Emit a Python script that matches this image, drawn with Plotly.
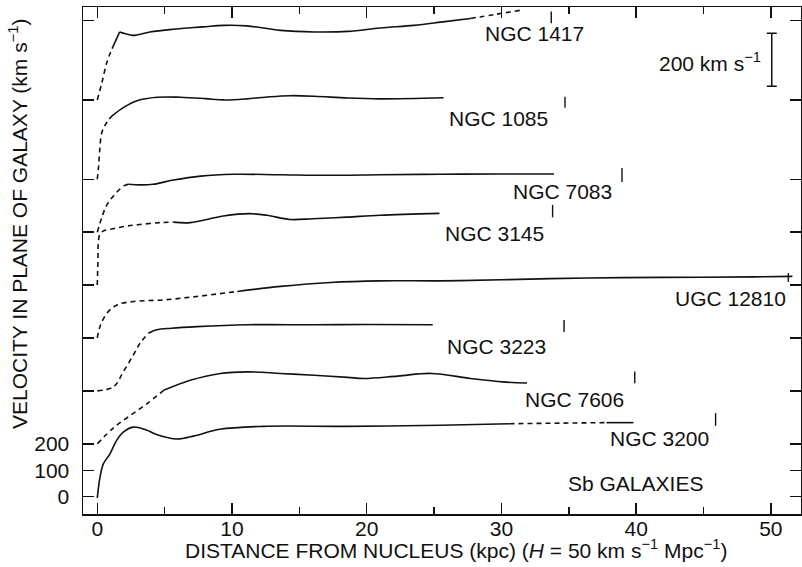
import plotly.graph_objects as go

# ---------------- data ----------------
GALAXIES = ["NGC 1417", "NGC 1085", "NGC 7083", "NGC 3145",
            "UGC 12810", "NGC 3223", "NGC 7606", "NGC 3200"]
OFFSETS = [1500, 1200, 1000, 800, 600, 400, 200, 0]  # km/s shift of each curve

# radius (kpc) and rotation velocity (km/s, relative to the curve's own zero)
R_1417 = [0, 0.35, 0.72, 1.1, 1.66, 2.1, 2.65, 3.9, 5.6, 7.85, 9.4, 11.1, 13.6,
          16.1, 18.6, 21.0, 23.5, 25.5, 27.7, 29.5, 31.4]
V_1417 = [0, 67, 143, 194, 257, 250, 244, 257, 267, 276, 282, 280, 263,
          257, 259, 272, 282, 294, 308, 323, 339]
SEG_1417 = [(0, 3, "dash"), (3, 4, "straight"), (4, 18, "solid"), (18, 20, "dash")]

R_1085 = [0, 0.1, 0.17, 0.35, 0.72, 1.1, 1.96, 2.95, 4.44, 6.17, 8.0, 9.4,
          11.1, 12.8, 14.3, 16.1, 18.6, 21.0, 25.7]
V_1085 = [0, 50, 103, 179, 216, 240, 272, 297, 310, 310, 305, 300,
          304, 312, 316, 314, 307, 304, 308]
SEG_1085 = [(0, 5, "dash"), (5, 18, "solid")]

R_7083 = [0, 0.37, 0.67, 1.04, 1.54, 2.04, 2.29, 3.2, 4.14, 5.65, 7.66, 10.1,
          13.6, 17.3, 21.0, 25.5, 30.0, 33.9]
V_7083 = [0, 61, 99, 127, 156, 177, 181, 179, 181, 197, 212, 219,
          217, 215, 217, 219, 220, 220]
SEG_7083 = [(0, 6, "dash"), (6, 17, "solid")]

R_3145 = [0, 0.05, 0.07, 0.18, 0.42, 1.17, 2.16, 3.16, 4.65, 5.65, 6.9, 9.35,
          11.3, 12.6, 14.3, 16.0, 18.5, 21.0, 25.4]
V_3145 = [0, 96, 153, 191, 204, 213, 223, 229, 236, 238, 236, 261,
          270, 264, 248, 251, 257, 264, 271]
SEG_3145 = [(0, 9, "dash"), (9, 18, "solid")]

R_12810 = [0, 0.2, 0.72, 1.46, 2.7, 4.93, 7.4, 10.4, 13.6, 17.3, 21.0, 25.5,
           30.0, 36.4, 42.0, 48.8, 51.6]
V_12810 = [0, 43, 94, 125, 138, 144, 157, 176, 195, 210, 216, 216,
           220, 227, 229, 231, 233]
SEG_12810 = [(0, 7, "dash"), (7, 16, "solid")]

R_3223 = [0, 1.2, 1.93, 2.67, 3.17, 3.79, 4.41, 5.5, 7.4, 11.1, 16.1, 20.0, 24.9]
V_3223 = [0, 15, 72, 135, 180, 218, 231, 237, 243, 250, 250, 251, 250]
SEG_3223 = [(0, 5, "dash"), (5, 12, "solid")]

R_7606 = [0, 1.24, 2.45, 3.7, 4.93, 6.9, 9.14, 11.1, 13.6, 16.1, 18.6, 19.8,
          22.3, 24.8, 27.7, 30.1, 31.9]
V_7606 = [0, 62, 107, 152, 202, 240, 266, 272, 266, 259, 251, 247,
          256, 266, 247, 234, 230]
SEG_7606 = [(0, 4, "dash"), (4, 16, "solid")]

R_3200 = [0, 0.2, 0.45, 0.94, 1.44, 1.93, 2.67, 3.6, 4.4, 5.9, 7.2, 9.1, 12.3,
          18.5, 25.5, 30.6, 37.8, 39.8]
V_3200 = [-5, 73, 124, 162, 213, 244, 263, 253, 235, 218, 230, 255, 266,
          266, 270, 276, 280, 280]
SEG_3200 = [(0, 15, "solid"), (15, 16, "dash"), (16, 17, "solid")]

CURVES = [(R_1417, V_1417, SEG_1417), (R_1085, V_1085, SEG_1085),
          (R_7083, V_7083, SEG_7083), (R_3145, V_3145, SEG_3145),
          (R_12810, V_12810, SEG_12810), (R_3223, V_3223, SEG_3223),
          (R_7606, V_7606, SEG_7606), (R_3200, V_3200, SEG_3200)]

# isophotal radius markers (kpc) and their vertical extent (km/s, relative)
R25_KPC = [33.7, 34.72, 38.95, 33.8, 51.3, 34.65, 39.9, 45.9]
R25_VLO = [290, 270, 190, 256, 212, 223, 229, 268]
R25_VHI = [334, 312, 243, 303, 246, 268, 273, 316]

Y_TICKS = [0, 100, 200]
Y_TICK_TEXT = ["0", "100", "200"]
Y_ZERO_TICKS = [400, 600, 800, 1000, 1200, 1500, 1800]  # unlabelled curve zeros
X_TICKS = [0, 10, 20, 30, 40, 50]
X_TICK_TEXT = ["0", "10", "20", "30", "40", "50"]
SCALE_KMS = 200

# ---------------- styling / layout positions ----------------
FONT = "Liberation Sans, Arial, Helvetica, sans-serif"
INK = "#111111"
LW = 1.6
FS = 21

LABEL_POS = {  # (x kpc, y km/s) of each galaxy name
    "NGC 1417": (32.44, 1750), "NGC 1085": (29.77, 1431),
    "NGC 7083": (34.57, 1154), "NGC 3145": (29.52, 994),
    "UGC 12810": (46.97, 750), "NGC 3223": (29.65, 567),
    "NGC 7606": (35.39, 366), "NGC 3200": (41.77, 221),
}

fig = go.Figure()

for name, off, (R, V, SEG) in zip(GALAXIES, OFFSETS, CURVES):
    for i0, i1, kind in SEG:
        xs = R[i0:i1 + 1]
        ys = [v + off for v in V[i0:i1 + 1]]
        line = dict(color=INK, width=LW,
                    shape="linear" if kind == "straight" else "spline")
        if kind != "straight":
            line["smoothing"] = 1.0
        if kind == "dash":
            line["dash"] = "5px,4px"
        fig.add_trace(go.Scatter(x=xs, y=ys, mode="lines", line=line,
                                 hoverinfo="skip", showlegend=False,
                                 cliponaxis=False))

for r, lo, hi, off in zip(R25_KPC, R25_VLO, R25_VHI, OFFSETS):
    fig.add_trace(go.Scatter(x=[r, r], y=[lo + off, hi + off], mode="lines",
                             line=dict(color=INK, width=1.4),
                             hoverinfo="skip", showlegend=False))

# scale bar (200 km/s)
fig.add_trace(go.Scatter(
    x=[50.07], y=[1652], mode="markers",
    marker=dict(size=2, color="rgba(0,0,0,0)"),
    error_y=dict(type="data", array=[SCALE_KMS / 2], symmetric=True,
                 width=5, thickness=1.5, color=INK),
    hoverinfo="skip", showlegend=False))

# plot area in pixels: x 83..801, y 7..514
PX_L, PX_R, PX_T, PX_B = 83, 801, 7, 514


def px_to_paper(px, py):
    return (px - PX_L) / (PX_R - PX_L), (PX_B - py) / (PX_B - PX_T)


ann = []
for name in GALAXIES:
    x, y = LABEL_POS[name]
    ann.append(dict(x=x, y=y, xref="x", yref="y", text=name, showarrow=False,
                    font=dict(size=FS, color=INK, family=FONT),
                    xanchor="center", yanchor="middle"))
ann.append(dict(x=39.92, y=51, xref="x", yref="y", text="Sb GALAXIES",
                showarrow=False, font=dict(size=FS, color=INK, family=FONT),
                xanchor="center", yanchor="middle"))
ann.append(dict(x=49.44, y=1645, xref="x", yref="y",
                text="200 km s<sup>\u22121</sup>", showarrow=False,
                font=dict(size=FS, color=INK, family=FONT),
                xanchor="right", yanchor="middle"))
tx, ty = px_to_paper(456, 549)
ann.append(dict(x=tx, y=ty, xref="paper", yref="paper",
                text="DISTANCE FROM NUCLEUS (kpc) (<i>H</i> = 50 km s<sup>\u22121</sup> Mpc<sup>\u22121</sup>)",
                showarrow=False, font=dict(size=FS, color=INK, family=FONT),
                xanchor="center", yanchor="middle"))
tx, ty = px_to_paper(18, 224)
ann.append(dict(x=tx, y=ty, xref="paper", yref="paper", textangle=-90,
                text="VELOCITY IN PLANE OF GALAXY (km s<sup>\u22121</sup>)",
                showarrow=False, font=dict(size=FS, color=INK, family=FONT),
                xanchor="center", yanchor="middle"))

axis_common = dict(showline=True, linecolor=INK, linewidth=1.5, mirror="ticks",
                   ticks="inside", ticklen=11, tickwidth=1.5, tickcolor=INK,
                   showgrid=False, zeroline=False, automargin=False,
                   tickfont=dict(size=FS, color=INK, family=FONT))

fig.update_layout(
    width=802, height=567, autosize=False,
    margin=dict(l=PX_L, r=802 - PX_R, t=PX_T, b=567 - PX_B, pad=0),
    paper_bgcolor="white", plot_bgcolor="white",
    font=dict(family=FONT, color=INK, size=FS),
    xaxis=dict(range=[-1.06, 52.24], tickmode="array", tickvals=X_TICKS,
               ticktext=X_TICK_TEXT, ticklabelstandoff=-5,
               minor=dict(dtick=5, tick0=0, ticks="inside", ticklen=7,
                          tickwidth=1.5, tickcolor=INK, showgrid=False),
               **axis_common),
    yaxis=dict(range=[-65.4, 1851.3], tickmode="array", tickvals=Y_TICKS,
               ticktext=Y_TICK_TEXT, ticklabelstandoff=8,
               minor=dict(tickmode="array", tickvals=Y_ZERO_TICKS,
                          ticks="inside", ticklen=11, tickwidth=1.5,
                          tickcolor=INK, showgrid=False),
               **axis_common),
    annotations=ann,
)

fig.write_html("out.html",
               config={"displayModeBar": False, "staticPlot": True},
               post_script="document.body.style.margin='0';"
                           "document.body.style.overflow='hidden';")
